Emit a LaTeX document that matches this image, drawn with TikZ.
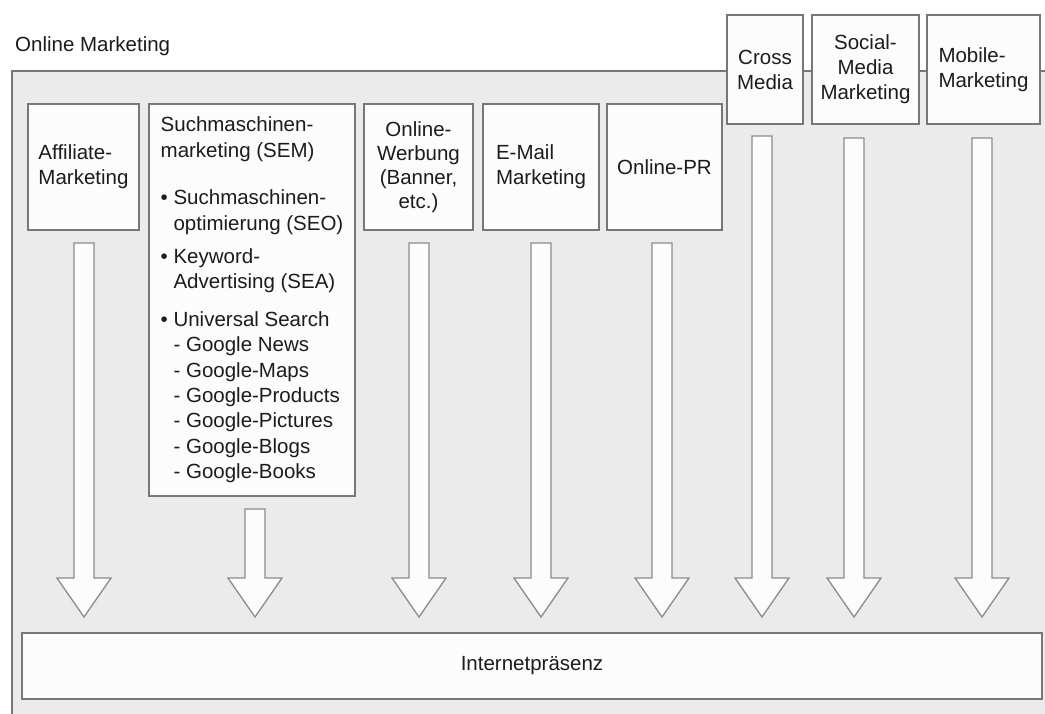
\documentclass[tikz,border=0pt]{standalone}
\usepackage{fontspec}
\setmainfont{Liberation Sans}
\usetikzlibrary{calc}

\definecolor{panel}{HTML}{EBEBEB}
\definecolor{edge}{HTML}{777777}
\definecolor{ink}{HTML}{1C1C1C}
\definecolor{paper}{HTML}{FCFCFC}

\tikzset{
  box/.style={draw=edge, line width=1.6pt, fill=paper, text=ink, inner sep=0pt,
              font=\fontsize{20.5}{25}\selectfont},
  arrowline/.style={draw=edge!85, line width=1.3pt, fill=paper, line join=miter},
  label/.style={text=ink, inner sep=0pt, font=\fontsize{20.5}{25}\selectfont}
}

% vertical block arrow from coordinate #1 down to the tip coordinate #2
\newcommand\fatarrow[2]{%
  \draw[arrowline] ($(#1)+(-10,0)$) -- ($(#1)+(10,0)$) -- ($(#2)+(10,-39)$)
    -- ($(#2)+(27,-39)$) -- (#2) -- ($(#2)+(-27,-39)$) -- ($(#2)+(-10,-39)$) -- cycle;}

\newcommand\ind{\phantom{• }}

\begin{document}
\begin{tikzpicture}[x=1pt, y=-1pt]
  \useasboundingbox (0,0) rectangle (1045,713);
  \fill[white] (0,0) rectangle (1045,713);

  % outer panel, running off the lower and right edges
  \begin{scope}
    \clip (0,0) rectangle (1045,713);
    \draw[draw=edge, line width=1.6pt, fill=panel] (12,71) rectangle (1060,730);
  \end{scope}

  \node[label, anchor=base west] (title) at (15,51) {Online Marketing};

  % channel boxes
  \node[box, minimum width=111pt, minimum height=126pt, align=left] (aff) at (83.5,167)
    {Affiliate-\\Marketing};
  \node[box, minimum width=206pt, minimum height=392pt, align=left,
        font=\fontsize{20.5}{25.4}\selectfont] (sem) at (252,300)
    {Suchmaschinen-\\marketing (SEM)\\[22pt]
     • Suchmaschinen-\\\ind optimierung (SEO)\\[8pt]
     • Keyword-\\\ind Advertising (SEA)\\[12pt]
     • Universal Search\\
     \ind - Google News\\
     \ind - Google-Maps\\
     \ind - Google-Products\\
     \ind - Google-Pictures\\
     \ind - Google-Blogs\\
     \ind - Google-Books};
  \node[box, minimum width=109pt, minimum height=126pt, align=center,
        font=\fontsize{20.5}{24}\selectfont] (werb) at (418.5,167)
    {Online-\\Werbung\\(Banner,\\etc.)};
  \node[box, minimum width=116pt, minimum height=126pt, align=left] (mail) at (541,167)
    {E-Mail\\Marketing};
  \node[box, minimum width=115pt, minimum height=126pt, align=left] (pr) at (664.5,167)
    {Online-PR};
  \node[box, minimum width=76pt, minimum height=109pt, align=center] (cross) at (765,69.5)
    {Cross\\Media};
  \node[box, minimum width=107pt, minimum height=109pt, align=center] (social) at (865.5,69.5)
    {Social-\\Media\\Marketing};
  \node[box, minimum width=113pt, minimum height=109pt, align=left] (mobile) at (983.5,69.5)
    {Mobile-\\Marketing};

  \node[box, minimum width=1020pt, minimum height=66pt] (inet) at (532,666) {Internetpräsenz};

  % arrow start and tip points
  \coordinate (affA) at (84,243);    \coordinate (affB) at (84,617);
  \coordinate (semA) at (255,509);   \coordinate (semB) at (255,617);
  \coordinate (werbA) at (419,243);  \coordinate (werbB) at (419,617);
  \coordinate (mailA) at (541,243);  \coordinate (mailB) at (541,617);
  \coordinate (prA) at (662,243);    \coordinate (prB) at (662,617);
  \coordinate (crossA) at (762,136); \coordinate (crossB) at (762,617);
  \coordinate (socA) at (854,138);   \coordinate (socB) at (854,617);
  \coordinate (mobA) at (982,138);   \coordinate (mobB) at (982,617);

  \fatarrow{affA}{affB}
  \fatarrow{semA}{semB}
  \fatarrow{werbA}{werbB}
  \fatarrow{mailA}{mailB}
  \fatarrow{prA}{prB}
  \fatarrow{crossA}{crossB}
  \fatarrow{socA}{socB}
  \fatarrow{mobA}{mobB}
\end{tikzpicture}
\end{document}
